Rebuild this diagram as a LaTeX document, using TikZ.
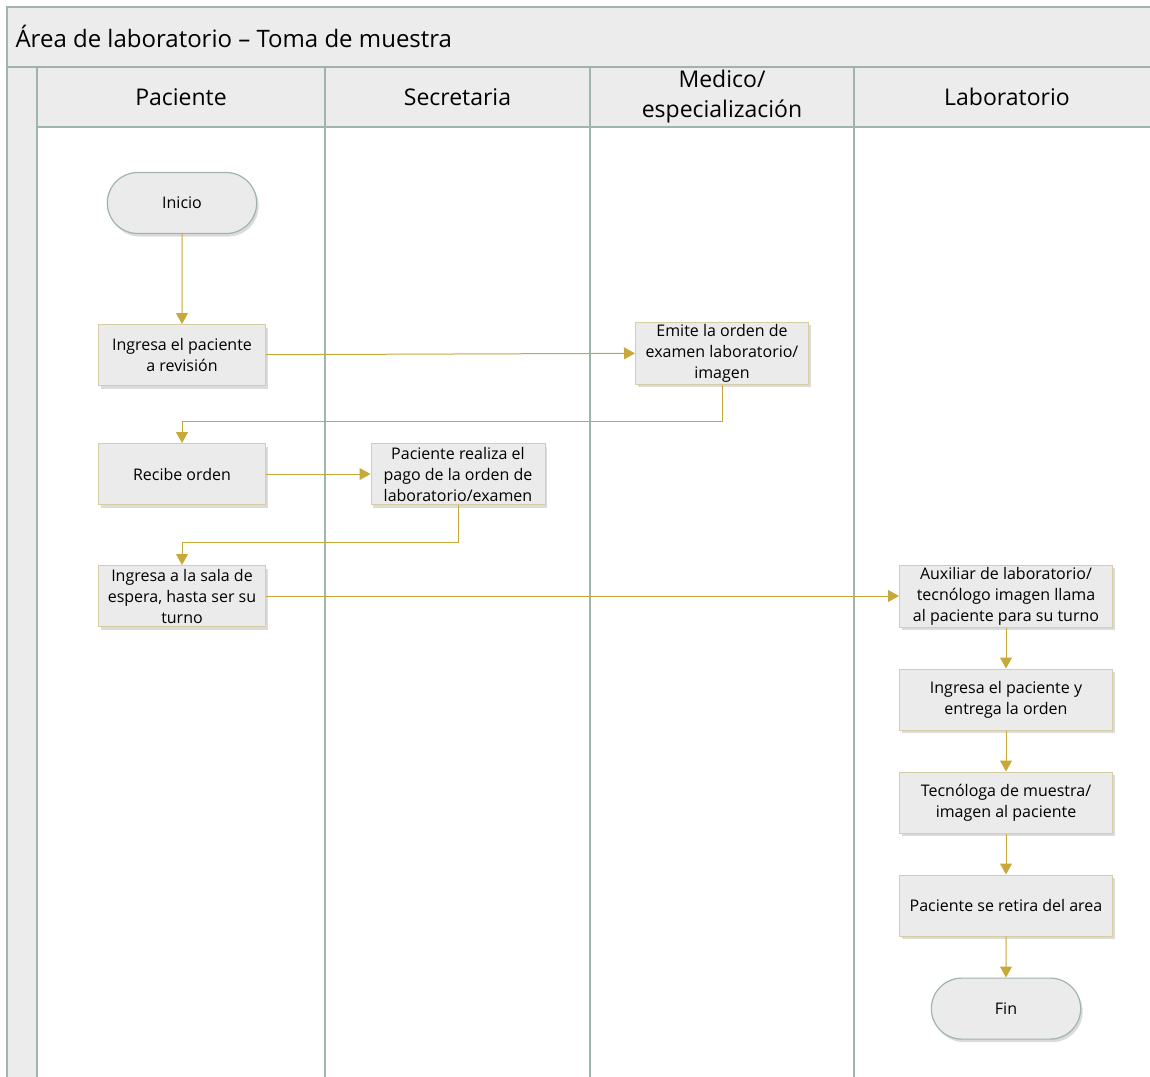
\documentclass[tikz,border=0pt]{standalone}
\usepackage{fontspec}
\setmainfont{Open Sans}
\usetikzlibrary{positioning, shapes.misc, arrows.meta, shadows}

\definecolor{lanefill}{RGB}{236,236,236}
\definecolor{laneline}{RGB}{160,180,175}
\definecolor{boxfill}{RGB}{235,235,235}
\definecolor{boxline}{RGB}{214,205,164}
\definecolor{flow}{RGB}{201,168,58}

\begin{document}
\begin{tikzpicture}[x=1pt, y=-1pt, node distance=41pt, >={Triangle[width=12pt,length=11pt]}]
      \tikzstyle{header} = [rectangle, draw=laneline, line width=1.2pt, fill=lanefill, minimum height=60pt, align=center, font=\fontsize{23}{30}\selectfont]
      \tikzstyle{process} = [rectangle, minimum height=61pt, inner sep=2pt, text centered, align=center, draw=boxline, line width=1pt, fill=boxfill, font=\fontsize{16}{21}\selectfont, drop shadow={shadow xshift=2pt, shadow yshift=-3pt, opacity=0.2, fill=black!70}]
      \tikzstyle{startstop} = [rounded rectangle, minimum width=156pt, minimum height=61pt, text centered, draw=laneline, line width=1.2pt, fill=boxfill, font=\fontsize{16}{21}\selectfont, drop shadow={shadow xshift=2pt, shadow yshift=-3pt, opacity=0.2, fill=black!70}]
      \tikzstyle{arrow} = [draw=flow, line width=1pt, ->]

      \useasboundingbox (0,0) rectangle (1150,1076);

      % pool and lanes
      \draw [draw=laneline, line width=1.2pt, fill=lanefill] (7,7) rectangle (1165,67);
      \draw [draw=laneline, line width=1.2pt, fill=lanefill] (7,67) rectangle (37,1090);
      \node (title) [anchor=west, font=\fontsize{24}{28}\selectfont] at (12,36) {Área de laboratorio – Toma de muestra};
      \foreach \x in {325, 590, 854}
        \draw [draw=laneline, line width=1.2pt] (\x,127) -- (\x,1090);

      \node (hpaciente) [header, minimum width=288pt] at (181,97) {Paciente};
      \node (hsecretaria) [header, minimum width=265pt] at (457.5,97) {Secretaria};
      \node (hmedico) [header, minimum width=264pt] at (722,97) {Medico/\\especialización};
      \node (hlab) [header, minimum width=306pt] at (1007,97) {Laboratorio};

      % paciente
      \node (inicio) [startstop] at (182,203) {Inicio};
      \node (ingreso) [process, minimum width=167pt] at (182,355) {Ingresa el paciente\\a revisión};
      \node (recibe) [process, minimum width=167pt] at (182,474) {Recibe orden};
      \node (sala) [process, minimum width=167pt] at (182,596) {Ingresa a la sala de\\espera, hasta ser su\\turno};

      % secretaria y medico
      \node (pago) [process, minimum width=174pt] at (458,474) {Paciente realiza el\\pago de la orden de\\laboratorio/examen};
      \node (orden) [process, minimum width=173pt] at (722,353) {Emite la orden de\\examen laboratorio/\\imagen};

      % laboratorio
      \node (llamada) [process, minimum width=213pt] at (1006,596) {Auxiliar de laboratorio/\\tecnólogo imagen llama\\al paciente para su turno};
      \node (entrega) [process, minimum width=213pt, below= of llamada] {Ingresa el paciente y\\entrega la orden};
      \node (muestra) [process, minimum width=213pt, below= of entrega] {Tecnóloga de muestra/\\imagen al paciente};
      \node (retiro) [process, minimum width=213pt, below= of muestra] {Paciente se retira del area};
      \node (fin) [startstop, below= of retiro] {Fin};

      \draw [arrow] (inicio) -- (ingreso);
      \draw [arrow] (ingreso) -- (orden);
      \draw [arrow] (orden.south) -- ++(0,37) -| (recibe.north);
      \draw [arrow] (recibe) -- (pago);
      \draw [arrow] (pago.south) -- ++(0,37) -| (sala.north);
      \draw [arrow] (sala) -- (llamada);
      \draw [arrow] (llamada) -- (entrega);
      \draw [arrow] (entrega) -- (muestra);
      \draw [arrow] (muestra) -- (retiro);
      \draw [arrow] (retiro) -- (fin);

    \end{tikzpicture}
\end{document}
